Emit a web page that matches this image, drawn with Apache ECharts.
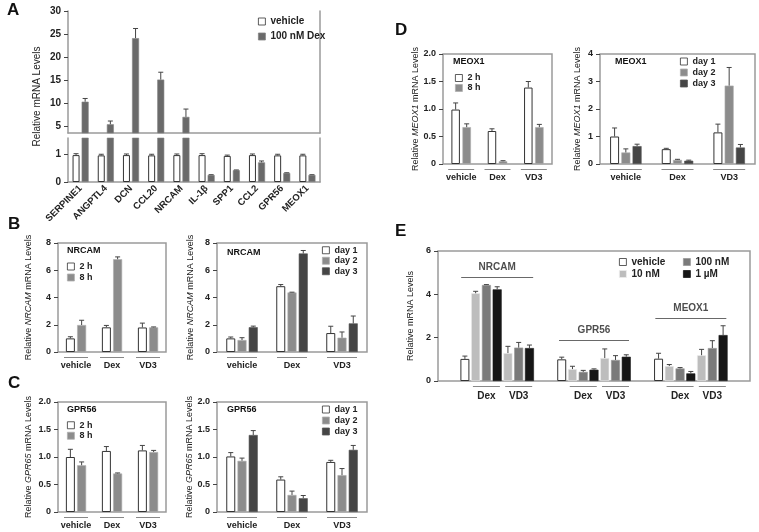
<!DOCTYPE html>
<html>
<head>
<meta charset="utf-8">
<script src="https://cdn.jsdelivr.net/npm/echarts@6/dist/echarts.min.js"></script>
<style>
html, body { margin: 0; padding: 0; background: #fff; }
#chart { width: 759px; height: 532px; }
</style>
</head>
<body>
<div id="chart"></div>
<script>
// ---------- data ----------
// A: 100 nM Dex screen
var genesA = ['SERPINE1', 'ANGPTL4', 'DCN', 'CCL20', 'NRCAM', 'IL-1β', 'SPP1', 'CCL2', 'GPR56', 'MEOX1'];
var vehA = [0.96, 0.95, 0.96, 0.95, 0.96, 0.96, 0.93, 0.96, 0.95, 0.95];
var vehAErr = [0.05, 0.04, 0.04, 0.04, 0.04, 0.05, 0.03, 0.04, 0.04, 0.04];
var dexA = [10.3, 5.4, 24.1, 15.1, 7.0, 0.25, 0.42, 0.70, 0.32, 0.25];
var dexAErr = [0.7, 0.7, 2.1, 1.6, 1.7, 0.01, 0.01, 0.05, 0.01, 0.01];

var groups = ['vehicle', 'Dex', 'VD3'];

// B: NRCAM
var nrcam2h = [1.00, 1.81, 1.80], nrcam2hErr = [0.12, 0.14, 0.32];
var nrcam8h = [1.98, 6.81, 1.81], nrcam8hErr = [0.35, 0.17, 0.03];
var nrcamD1 = [1.00, 4.83, 1.39], nrcamD1Err = [0.10, 0.12, 0.50];
var nrcamD2 = [0.88, 4.37, 1.05], nrcamD2Err = [0.17, 0.02, 0.42];
var nrcamD3 = [1.82, 7.23, 2.10], nrcamD3Err = [0.08, 0.22, 0.54];

// C: GPR56
var gpr2h = [1.00, 1.11, 1.12], gpr2hErr = [0.14, 0.08, 0.09];
var gpr8h = [0.85, 0.70, 1.09], gpr8hErr = [0.06, 0.01, 0.03];
var gprD1 = [1.01, 0.59, 0.91], gprD1Err = [0.07, 0.05, 0.03];
var gprD2 = [0.93, 0.31, 0.67], gprD2Err = [0.05, 0.07, 0.12];
var gprD3 = [1.40, 0.25, 1.13], gprD3Err = [0.08, 0.05, 0.08];

// D: MEOX1
var meox2h = [0.99, 0.60, 1.39], meox2hErr = [0.12, 0.04, 0.11];
var meox8h = [0.67, 0.05, 0.67], meox8hErr = [0.06, 0.01, 0.05];
var meoxD1 = [1.00, 0.54, 1.15], meoxD1Err = [0.31, 0.03, 0.30];
var meoxD2 = [0.42, 0.15, 2.85], meoxD2Err = [0.13, 0.02, 0.66];
var meoxD3 = [0.65, 0.12, 0.60], meoxD3Err = [0.07, 0.02, 0.11];

// E: dose response, genes NRCAM / GPR56 / MEOX1
var genesE = ['NRCAM', 'GPR56', 'MEOX1'];
var eVeh = [1.02, 1.00, 1.03], eVehErr = [0.13, 0.10, 0.25];
var eDex10 = [4.05, 0.55, 0.69], eDex10Err = [0.09, 0.13, 0.07];
var eDex100 = [4.43, 0.42, 0.58], eDex100Err = [0.02, 0.07, 0.04];
var eDex1u = [4.23, 0.52, 0.35], eDex1uErr = [0.12, 0.04, 0.09];
var eVd10 = [1.29, 1.06, 1.19], eVd10Err = [0.31, 0.42, 0.27];
var eVd100 = [1.54, 0.97, 1.52], eVd100Err = [0.24, 0.20, 0.34];
var eVd1u = [1.52, 1.12, 2.12], eVd1uErr = [0.14, 0.09, 0.43];
var eGeneLevel = [4.75, 1.85, 2.86];

// ---------- helpers ----------
var FONT = '"Liberation Sans", Arial, sans-serif';
var FRAME = '#9a9a9a';
var grids = [], xAxes = [], yAxes = [], series = [], titles = [], legends = [];

function addGrid(g) { grids.push(g); return grids.length - 1; }
function addX(a) { xAxes.push(a); return xAxes.length - 1; }
function addY(a) { yAxes.push(a); return yAxes.length - 1; }

function barStyle(c) {
	if (c === '#ffffff') return { color: c, borderColor: '#333', borderWidth: 1 };
	return { color: c, borderColor: echarts.color.lift(c, -0.25), borderWidth: 0.6 };
}

function mkErr(xi, yi, pts, offset, lo, hi) {
	series.push({
		type: 'custom', xAxisIndex: xi, yAxisIndex: yi, silent: true, z: 6,
		data: pts,
		renderItem: function (params, api) {
			var v = api.value(1), t = api.value(2);
			if (v < lo || t > hi) return null;
			var p = api.coord([api.value(0), v]);
			var q = api.coord([api.value(0), t]);
			var x = p[0] + offset;
			var st = { stroke: '#444', lineWidth: 1 };
			return {
				type: 'group',
				children: [
					{ type: 'line', shape: { x1: x, y1: p[1], x2: x, y2: q[1] }, style: st },
					{ type: 'line', shape: { x1: x - 2.5, y1: q[1], x2: x + 2.5, y2: q[1] }, style: st }
				]
			};
		}
	});
}

function yNameRich(gene) {
	return {
		name: gene ? '{r|Relative }{i|' + gene + '}{r| mRNA Levels}' : '{r|Relative mRNA Levels}',
		nameLocation: 'middle',
		nameTextStyle: {
			rich: {
				r: { fontSize: 9, fontFamily: FONT, color: '#222' },
				i: { fontSize: 9, fontFamily: FONT, color: '#222', fontStyle: 'italic' }
			}
		}
	};
}

function tickLabel(fmt, size) {
	return { fontSize: size || 9, fontWeight: 'bold', color: '#222', fontFamily: FONT, margin: 7, formatter: fmt };
}
var yTick = { show: true, length: 4, lineStyle: { color: '#444', width: 1 } };

function underlineLabel(w, margin, lh) {
	return {
		interval: 0, margin: margin,
		formatter: function (v) { return v ? '{l| }\n{n|' + v + '}' : ''; },
		rich: {
			l: { width: w, height: 1, lineHeight: 1, fontSize: 1, backgroundColor: '#888' },
			n: { fontSize: 9, fontWeight: 'bold', fontFamily: FONT, color: '#222', lineHeight: lh }
		}
	};
}

function addTitle(text, left, top, size) {
	titles.push({ text: text, left: left, top: top, padding: 0,
		textStyle: { fontSize: size, fontWeight: 'bold', fontFamily: FONT, color: '#111' } });
}

function addLegend(names, left, top, size, lh) {
	legends.push({
		data: names, left: left, top: top, orient: 'vertical', padding: 0,
		itemWidth: 7, itemHeight: 7, itemGap: 0, selectedMode: false, icon: 'rect',
		itemStyle: { borderWidth: 0.8 },
		textStyle: { fontSize: size, fontWeight: 'bold', fontFamily: FONT, color: '#222', lineHeight: lh }
	});
}

function fmt1(v) { return v === 0 ? '0' : v.toFixed(1); }
function fmt0(v) { return String(v); }

// small 3-group panel (B, C, D)
function smallPanel(o) {
	var gi = addGrid({ left: o.left, top: o.top, width: o.width, height: o.height,
		show: true, borderColor: FRAME, borderWidth: 1.5 });
	var xi = addX({ gridIndex: gi, type: 'category', data: groups,
		axisLine: { show: false }, axisTick: { show: false },
		axisLabel: underlineLabel(o.lineW, 5, 16) });
	var yc = yNameRich(o.gene);
	var yi = addY(Object.assign({ gridIndex: gi, type: 'value', min: 0, max: o.max, interval: o.interval,
		nameGap: o.nameGap, axisLine: { show: false }, axisTick: yTick,
		axisLabel: tickLabel(o.fmt), splitLine: { show: false } }, yc));
	var n = o.series.length, step = o.barW * (1 + o.gapPct / 100);
	o.series.forEach(function (s, k) {
		series.push({ type: 'bar', name: s.name, xAxisIndex: xi, yAxisIndex: yi, data: s.vals,
			barWidth: o.barW, barGap: o.gapPct + '%', itemStyle: barStyle(s.color) });
		mkErr(xi, yi, s.vals.map(function (v, i) { return [i, v, v + s.errs[i]]; }),
			(k - (n - 1) / 2) * step, -Infinity, Infinity);
	});
}

var WHITE = '#ffffff', MID = '#8c8c8c', DARK = '#454545';

// ---------- panel A ----------
(function () {
	var L = 68, W = 252;
	var frameLine = { show: true, lineStyle: { color: FRAME, width: 1.5 } };
	// upper part (broken axis)
	var gU = addGrid({ left: L, top: 11, width: W, height: 122 });
	var xU = addX({ gridIndex: gU, type: 'category', data: genesA, position: 'top',
		axisLine: frameLine, axisTick: { show: false }, axisLabel: { show: false } });
	var yU = addY({ gridIndex: gU, type: 'value', min: 3.5, max: 30,
		axisLine: frameLine, splitLine: { show: false },
		axisTick: Object.assign({ customValues: [5, 10, 15, 20, 25, 30] }, yTick),
		axisLabel: Object.assign({ customValues: [5, 10, 15, 20, 25, 30] }, tickLabel(fmt0, 10)) });
	addY({ gridIndex: gU, type: 'value', position: 'right', min: 0, max: 1, axisLine: frameLine,
		axisTick: { show: false }, axisLabel: { show: false }, splitLine: { show: false } });
	// lower part
	var gL = addGrid({ left: L, top: 138, width: W, height: 44 });
	var xL = addX({ gridIndex: gL, type: 'category', data: genesA,
		axisLine: frameLine, axisTick: { show: false },
		axisLabel: { interval: 0, rotate: 45, margin: 5, fontSize: 9.5, fontWeight: 'bold', color: '#222', fontFamily: FONT } });
	var yL = addY({ gridIndex: gL, type: 'value', min: 0, max: 1.57,
		axisLine: frameLine, splitLine: { show: false },
		axisTick: Object.assign({ customValues: [0, 1] }, yTick),
		axisLabel: Object.assign({ customValues: [0, 1] }, tickLabel(fmt0, 10)) });
	addY({ gridIndex: gL, type: 'value', position: 'right', min: 0, max: 1, axisLine: frameLine,
		axisTick: { show: false }, axisLabel: { show: false }, splitLine: { show: false } });
	// axis name spanning both parts
	var gN = addGrid({ left: L, top: 11, width: W, height: 171 });
	addX({ gridIndex: gN, type: 'value', show: false });
	var yN = yNameRich(null);
	yN.nameTextStyle.rich.r.fontSize = 10;
	addY(Object.assign({ gridIndex: gN, type: 'value', min: 0, max: 1, nameGap: 26,
		axisLine: { show: false }, axisTick: { show: false }, axisLabel: { show: false },
		splitLine: { show: false } }, yN));

	var barW = 7, gapPct = 30, step = barW * 1.3;
	[[xU, yU, 3.5, Infinity], [xL, yL, -Infinity, 1.57]].forEach(function (ax) {
		series.push({ type: 'bar', name: 'vehicle', xAxisIndex: ax[0], yAxisIndex: ax[1], data: vehA,
			barWidth: barW, barGap: gapPct + '%', itemStyle: barStyle(WHITE), clip: true });
		series.push({ type: 'bar', name: '100 nM Dex', xAxisIndex: ax[0], yAxisIndex: ax[1], data: dexA,
			barWidth: barW, barGap: gapPct + '%', itemStyle: barStyle('#6a6a6a'), clip: true });
		mkErr(ax[0], ax[1], vehA.map(function (v, i) { return [i, v, v + vehAErr[i]]; }), -step / 2, ax[2], ax[3]);
		mkErr(ax[0], ax[1], dexA.map(function (v, i) { return [i, v, v + dexAErr[i]]; }), step / 2, ax[2], ax[3]);
	});
	addLegend(['vehicle', '100 nM Dex'], 258, 14, 10, 15);
	addTitle('A', 7, 2, 17);
})();

// ---------- panels B, C, D ----------
smallPanel({ left: 58, top: 243, width: 108, height: 109, max: 8, interval: 2, fmt: fmt0, gene: 'NRCAM',
	nameGap: 25, barW: 9, gapPct: 25, lineW: 24,
	series: [{ name: '2 h', color: WHITE, vals: nrcam2h, errs: nrcam2hErr },
		{ name: '8 h', color: MID, vals: nrcam8h, errs: nrcam8hErr }] });
smallPanel({ left: 217, top: 243, width: 150, height: 109, max: 8, interval: 2, fmt: fmt0, gene: 'NRCAM',
	nameGap: 22, barW: 9, gapPct: 25, lineW: 30,
	series: [{ name: 'day 1', color: WHITE, vals: nrcamD1, errs: nrcamD1Err },
		{ name: 'day 2', color: MID, vals: nrcamD2, errs: nrcamD2Err },
		{ name: 'day 3', color: DARK, vals: nrcamD3, errs: nrcamD3Err }] });
smallPanel({ left: 58, top: 402, width: 108, height: 110, max: 2, interval: 0.5, fmt: fmt1, gene: 'GPR65',
	nameGap: 25, barW: 9, gapPct: 25, lineW: 24,
	series: [{ name: '2 h', color: WHITE, vals: gpr2h, errs: gpr2hErr },
		{ name: '8 h', color: MID, vals: gpr8h, errs: gpr8hErr }] });
smallPanel({ left: 217, top: 402, width: 150, height: 110, max: 2, interval: 0.5, fmt: fmt1, gene: 'GPR65',
	nameGap: 22, barW: 9, gapPct: 25, lineW: 30,
	series: [{ name: 'day 1', color: WHITE, vals: gprD1, errs: gprD1Err },
		{ name: 'day 2', color: MID, vals: gprD2, errs: gprD2Err },
		{ name: 'day 3', color: DARK, vals: gprD3, errs: gprD3Err }] });
smallPanel({ left: 443, top: 54, width: 109, height: 110, max: 2, interval: 0.5, fmt: fmt1, gene: 'MEOX1',
	nameGap: 20, barW: 8.5, gapPct: 30, lineW: 26,
	series: [{ name: '2 h', color: WHITE, vals: meox2h, errs: meox2hErr },
		{ name: '8 h', color: MID, vals: meox8h, errs: meox8hErr }] });
smallPanel({ left: 600, top: 54, width: 155, height: 110, max: 4, interval: 1, fmt: fmt0, gene: 'MEOX1',
	nameGap: 18, barW: 9, gapPct: 25, lineW: 32,
	series: [{ name: 'day 1', color: WHITE, vals: meoxD1, errs: meoxD1Err },
		{ name: 'day 2', color: MID, vals: meoxD2, errs: meoxD2Err },
		{ name: 'day 3', color: DARK, vals: meoxD3, errs: meoxD3Err }] });

addTitle('B', 8, 216, 17);
addTitle('NRCAM', 67, 246, 9);
addTitle('NRCAM', 227, 248, 9);
addLegend(['2 h', '8 h'], 67, 261, 9, 11);
addLegend(['day 1', 'day 2', 'day 3'], 322, 245, 9, 10.5);

addTitle('C', 8, 375, 17);
addTitle('GPR56', 67, 405, 9);
addTitle('GPR56', 227, 405, 9);
addLegend(['2 h', '8 h'], 67, 420, 9, 10.5);
addLegend(['day 1', 'day 2', 'day 3'], 322, 404, 9, 11);

addTitle('D', 395, 22, 17);
addTitle('MEOX1', 453, 57, 9);
addTitle('MEOX1', 615, 57, 9);
addLegend(['2 h', '8 h'], 455, 73, 9, 10);
addLegend(['day 1', 'day 2', 'day 3'], 680, 56, 9, 11);

// ---------- panel E ----------
(function () {
	var slots = ['vehicle', 'Dex 10 nM', 'Dex 100 nM', 'Dex 1 µM', 'VD3 10 nM', 'VD3 100 nM', 'VD3 1 µM'];
	var cats = ['p0', 'p1'], labs = ['', ''], base = [];
	genesE.forEach(function (g, gi) {
		base.push(cats.length);
		slots.forEach(function (s) {
			cats.push(g + ' ' + s);
			labs.push(s === 'Dex 100 nM' ? 'Dex' : (s === 'VD3 100 nM' ? 'VD3' : ''));
		});
		if (gi < genesE.length - 1) { cats.push(g + ' gap1', g + ' gap2'); labs.push('', ''); }
	});
	cats.push('q0', 'q1'); labs.push('', '');

	var gE = addGrid({ left: 438, top: 251, width: 312, height: 130, show: true, borderColor: FRAME, borderWidth: 1.5 });
	var ul = underlineLabel(27, 5, 18);
	ul.rich.n.fontSize = 10;
	ul.formatter = function (v, i) { return labs[i] ? '{l| }\n{n|' + labs[i] + '}' : ''; };
	var xE = addX({ gridIndex: gE, type: 'category', data: cats, axisLine: { show: false },
		axisTick: { show: false }, axisLabel: ul });
	var yE = addY(Object.assign({ gridIndex: gE, type: 'value', min: 0, max: 6, interval: 2, nameGap: 23,
		axisLine: { show: false }, axisTick: yTick, axisLabel: tickLabel(fmt0), splitLine: { show: false } },
		yNameRich(null)));

	var sets = [
		{ name: 'vehicle', color: WHITE, parts: [[0, eVeh, eVehErr]] },
		{ name: '10 nM', color: '#bdbdbd', parts: [[1, eDex10, eDex10Err], [4, eVd10, eVd10Err]] },
		{ name: '100 nM', color: '#7a7a7a', parts: [[2, eDex100, eDex100Err], [5, eVd100, eVd100Err]] },
		{ name: '1 µM', color: '#161616', parts: [[3, eDex1u, eDex1uErr], [6, eVd1u, eVd1uErr]] }
	];
	sets.forEach(function (s) {
		var data = cats.map(function () { return null; });
		var errPts = [];
		s.parts.forEach(function (p) {
			genesE.forEach(function (g, gi) {
				var idx = base[gi] + p[0];
				data[idx] = p[1][gi];
				errPts.push([idx, p[1][gi], p[1][gi] + p[2][gi]]);
			});
		});
		series.push({ type: 'bar', name: s.name, xAxisIndex: xE, yAxisIndex: yE, data: data,
			barWidth: 9, barGap: '-100%', itemStyle: barStyle(s.color) });
		mkErr(xE, yE, errPts, 0, -Infinity, Infinity);
	});

	// gene labels with overline above each group
	var lineW = [72, 70, 71];
	genesE.forEach(function (g, gi) {
		series.push({ type: 'scatter', name: 'label ' + g, xAxisIndex: xE, yAxisIndex: yE, symbolSize: 0,
			silent: true, data: [[base[gi] + 3, eGeneLevel[gi]]],
			label: { show: true, position: 'top', distance: 0,
				formatter: '{n|' + g + '}\n{l| }',
				rich: {
					n: { fontSize: 10, fontWeight: 'bold', fontFamily: FONT, color: '#222', lineHeight: 20 },
					l: { width: lineW[gi], height: 1, lineHeight: 1, fontSize: 1, backgroundColor: '#444' }
				} } });
	});

	addTitle('E', 395, 223, 17);
	addLegend(['vehicle', '10 nM'], 619, 256, 10, 12);
	addLegend(['100 nM', '1 µM'], 683, 256, 10, 12);
})();

var myChart = echarts.init(document.getElementById('chart'));
myChart.setOption({
	animation: false,
	backgroundColor: '#fff',
	title: titles,
	legend: legends,
	grid: grids,
	xAxis: xAxes,
	yAxis: yAxes,
	series: series
});
</script>
</body>
</html>
